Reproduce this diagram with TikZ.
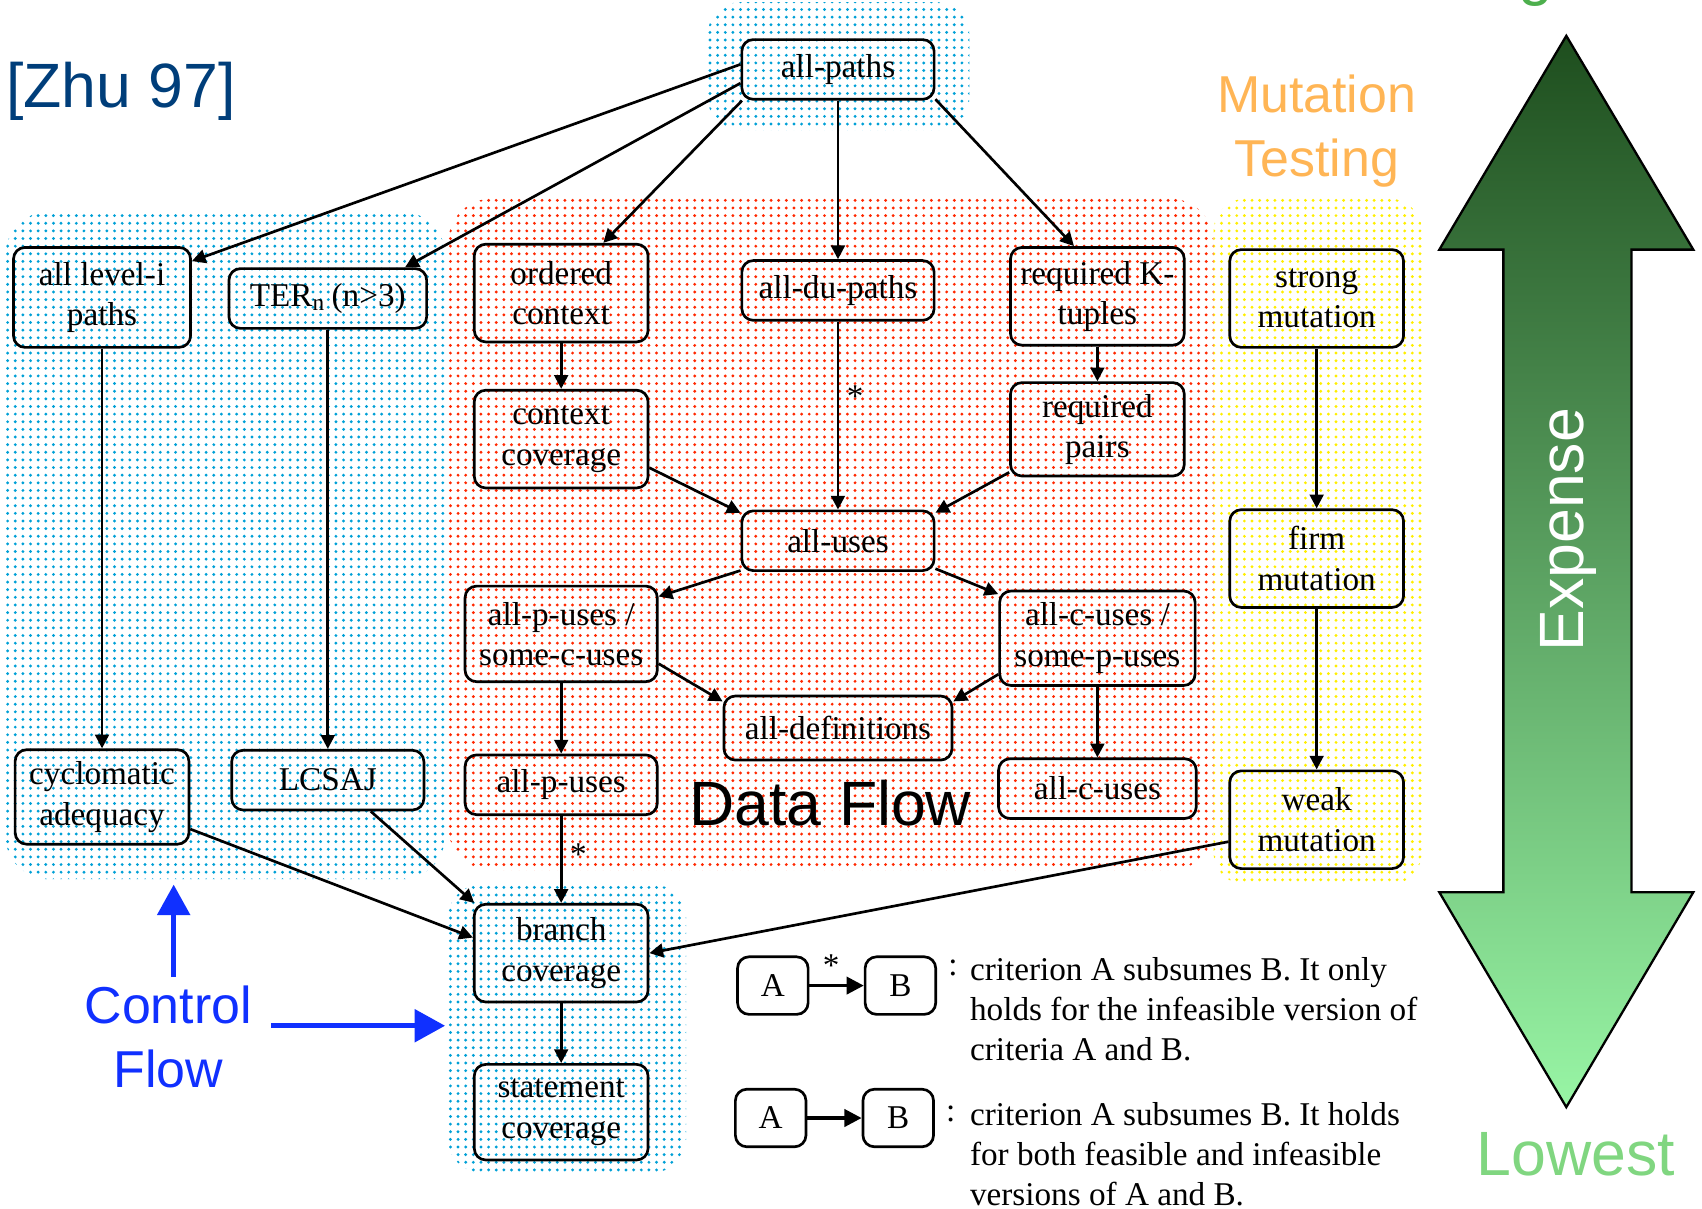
\documentclass[tikz,border=0pt]{standalone}
\usepackage{fontspec}
\setmainfont{Liberation Serif}
\setsansfont{Liberation Sans}
\usetikzlibrary{arrows.meta, positioning, patterns.meta}

\definecolor{zhublue}{RGB}{0,62,122}
\definecolor{mutorange}{RGB}{255,181,85}
\definecolor{ctrlblue}{RGB}{16,48,255}
\definecolor{dotblue}{RGB}{0,160,214}
\definecolor{dotred}{RGB}{255,40,0}
\definecolor{dotyellow}{RGB}{255,238,0}
\definecolor{arrtop}{RGB}{30,78,30}
\definecolor{arrbot}{RGB}{152,245,165}
\definecolor{lowgreen}{RGB}{128,214,128}
\definecolor{highgreen}{RGB}{77,175,77}

\tikzdeclarepattern{
  name=finedots,
  type=uncolored,
  bounding box={(-1pt,-1pt) and (1pt,1pt)},
  tile size={(2pt,2pt)},
  code={\fill (0pt,0pt) circle [radius=0.42pt];}
}

\begin{document}
\begin{tikzpicture}[
		x=0.01cm, y=-0.01cm,
		>={Triangle[length=3.6pt,width=3.6pt]},
		crit/.style={draw, line width=0.7pt, rounded corners=3pt, align=center,
			minimum width=1.6cm, minimum height=0.9cm, inner sep=1pt,
			font=\fontsize{8.7pt}{10.6pt}\selectfont},
		critone/.style={crit, minimum width=1.77cm, minimum height=0.55cm},
		legbox/.style={crit, minimum width=0.65cm, minimum height=0.53cm},
		legtxt/.style={inner sep=0pt, align=left, font=\fontsize{8.7pt}{10.5pt}\selectfont},
		starlbl/.style={font=\fontsize{8.7pt}{10pt}\selectfont, inner sep=2pt},
		arr/.style={->, line width=0.7pt},
		legarr/.style={-{Triangle[length=4.5pt,width=4.5pt]}, line width=0.9pt},
		cfarr/.style={-{Triangle[length=8pt,width=8.5pt]}, line width=1.2pt, ctrlblue},
		region/.style={pattern=finedots, rounded corners=0.4cm},
		bigsans/.style={font=\sffamily\fontsize{16.4pt}{19pt}\selectfont},
		midsans/.style={font=\sffamily\fontsize{13.6pt}{16.8pt}\selectfont, align=center, inner sep=2pt},
	]
		\useasboundingbox (0,0) rectangle (1568,1113);

		% Dotted groups
		\path[region, pattern color=dotblue] (5,195) rectangle (410,810);
		\path[region, pattern color=dotblue, rounded corners=0.3cm] (652,2) rectangle (893,120);
		\path[region, pattern color=dotblue, rounded corners=0.3cm] (413,815) rectangle (632,1080);
		\path[region, pattern color=dotred] (413,183) rectangle (1118,802);
		\path[region, pattern color=dotyellow, rounded corners=0.3cm] (1118,183) rectangle (1310,815);

		% Top row
		\node[critone] (allpaths) at (772,64) {all-paths};
		\node[crit, minimum width=1.63cm, minimum height=0.92cm] (level) at (94,274) {all level-i\\paths};
		\node[critone, minimum width=1.82cm] (ter) at (302,275) {TER\textsubscript{n}\,(n>3)};
		\node[crit] (ordered) at (517,270) {ordered\\context};
		\node[critone, below=1.46cm of allpaths] (dupaths) {all-du-paths};
		\node[crit] (reqk) at (1011,273) {required K-\\tuples};
		\node[crit] (strong) at (1213,275) {strong\\mutation};

		% Data flow
		\node[crit, below=0.42cm of ordered] (ctxcov) {context\\coverage};
		\node[crit, minimum height=0.86cm, below=0.32cm of reqk] (reqpairs) {required\\pairs};
		\node[critone, below=1.73cm of dupaths] (alluses) {all-uses};
		\node[crit, minimum width=1.77cm, minimum height=0.88cm] (apu) at (517,584) {all-p-uses /\\some-c-uses};
		\node[crit, minimum width=1.8cm, minimum height=0.87cm] (acu) at (1011,588) {all-c-uses /\\some-p-uses};
		\node[critone, minimum width=2.1cm, minimum height=0.59cm, below=1.13cm of alluses] (alldefs) {all-definitions};
		\node[critone, below=0.65cm of apu] (apuses) {all-p-uses};
		\node[critone, minimum width=1.82cm, below=0.65cm of acu] (acuses) {all-c-uses};

		% Control flow
		\node[crit, minimum height=0.87cm, below=3.68cm of level] (cyclo) {cyclomatic\\adequacy};
		\node[critone, below=3.86cm of ter] (lcsaj) {LCSAJ};
		\node[crit, below=0.8cm of apuses] (branch) {branch\\coverage};
		\node[crit, minimum height=0.88cm, below=0.55cm of branch] (stmt) {statement\\coverage};

		% Mutation
		\node[crit, below=1.47cm of strong] (firm) {firm\\mutation};
		\node[crit, below=1.48cm of firm] (weak) {weak\\mutation};

		% Arrows
		\draw[arr] (allpaths.177) -- (level.22);
		\draw[arr] (allpaths.188) -- (ter.22);
		\draw[arr] (allpaths.198) -- (ordered.50);
		\draw[arr] (allpaths) -- (dupaths);
		\draw[arr] (allpaths.-17) -- (reqk.115);
		\draw[arr] (level) -- (cyclo);
		\draw[arr] (ter) -- (lcsaj);
		\draw[arr] (ordered) -- (ctxcov);
		\draw[arr] (dupaths) -- node[right, pos=0.4, starlbl] {*} (alluses);
		\draw[arr] (reqk) -- (reqpairs);
		\draw[arr] (ctxcov.-18) -- (alluses.164);
		\draw[arr] (reqpairs.206) -- (alluses.16);
		\draw[arr] (alluses.197) -- (apu.21);
		\draw[arr] (alluses.-16) -- (acu.156);
		\draw[arr] (apu.-17.5) -- (alldefs.167);
		\draw[arr] (acu.200) -- (alldefs.13);
		\draw[arr] (apu) -- (apuses);
		\draw[arr] (acu) -- (acuses);
		\draw[arr] (strong) -- (firm);
		\draw[arr] (firm) -- (weak);
		\draw[arr] (cyclo.-20) -- (branch.170);
		\draw[arr] (lcsaj.-36) -- (branch.150);
		\draw[arr] (apuses) -- node[right, pos=0.44, starlbl] {*} (branch);
		\draw[arr] (weak.194) -- (branch.east);
		\draw[arr] (branch) -- (stmt);

		% Legend
		\node[legbox] (la1) at (712,908) {A};
		\node[legbox, right=0.5cm of la1] (lb1) {B};
		\draw[legarr] (la1) -- node[above, pos=0.4, starlbl] {*} (lb1);
		\node[legtxt] (col1) at (878,892) {:};
		\node[legtxt, anchor=west] (txt1) at (893,930) {criterion A subsumes B. It only\\holds for the infeasible version of\\criteria A and B.};
		\node[legbox] (la2) at (710,1030) {A};
		\node[legbox, right=0.5cm of la2] (lb2) {B};
		\draw[legarr] (la2) -- (lb2);
		\node[legtxt] (col2) at (876,1026) {:};
		\node[legtxt, anchor=west] (txt2) at (893,1063) {criterion A subsumes B. It holds\\for both feasible and infeasible\\versions of A and B.};

		% Labels
		\node[bigsans, text=zhublue, anchor=west, inner sep=0pt] (zhu) at (5,84) {[Zhu 97]};
		\node[midsans, text=mutorange] (mutlbl) at (1213,121) {Mutation\\Testing};
		\node[bigsans] (dflbl) at (765,740) {Data Flow};
		\node[midsans, text=ctrlblue] (cflbl) at (155,955) {Control\\Flow};
		\coordinate (cfup) at (160,815);
		\coordinate (cfright) at (410,945);
		\draw[cfarr] (cflbl.north -| cfup) -- (cfup);
		\draw[cfarr, shorten <=0.1cm] (cflbl.east |- cfright) -- (cfright);

		% Expense arrow
		\shadedraw[top color=arrtop, bottom color=arrbot, draw=black, line width=0.6pt]
			(1443,33) -- (1560,230) -- (1503,230) -- (1503,822) -- (1560,822) -- (1443,1020)
			-- (1326,822) -- (1385,822) -- (1385,230) -- (1326,230) -- cycle;
		\node[bigsans, text=white, rotate=90] (expense) at (1445,488) {Expense};
		\node[bigsans, text=lowgreen] (lowest) at (1452,1063) {Lowest};
		\node[bigsans, text=highgreen, anchor=base] (highest) at (1442,-6) {Highest};
	\end{tikzpicture}
\end{document}
